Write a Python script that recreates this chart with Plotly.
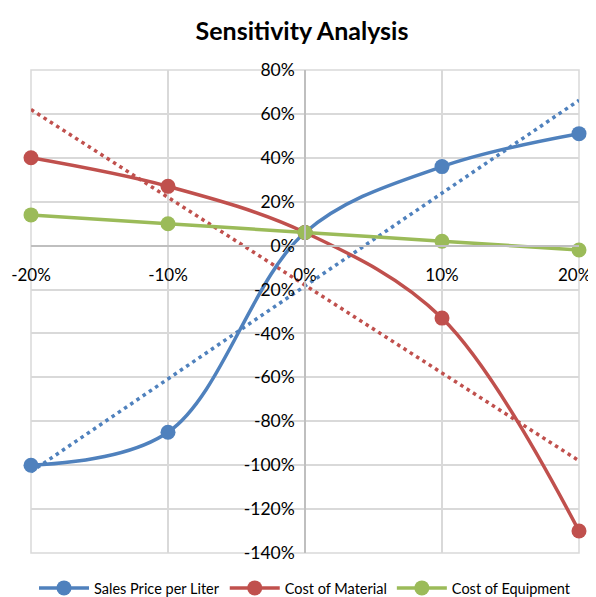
import numpy as np
import plotly.graph_objects as go

categories = ["-20%", "-10%", "0%", "10%", "20%"]
sales_price = [-100, -85, 6, 36, 51]
cost_material = [40, 27, 6, -33, -130]
cost_equipment = [14, 10, 6, 2, -2]
y_ticks = list(range(-140, 81, 20))

colors = {"sales": "#4F81BD", "material": "#C0504D", "equipment": "#9BBB59"}

idx = np.arange(len(categories))


def trend(vals):
    m, b = np.polyfit(idx, vals, 1)
    return list(m * idx + b)


fig = go.Figure()

for name, vals, key in [
    ("Sales Price per Liter", sales_price, "sales"),
    ("Cost of Material", cost_material, "material"),
]:
    fig.add_trace(go.Scatter(
        x=categories, y=trend(vals), mode="lines",
        line=dict(color=colors[key], width=3.5, dash="3.5px,4px"),
        showlegend=False, hoverinfo="skip", cliponaxis=False,
    ))

for name, vals, key in [
    ("Sales Price per Liter", sales_price, "sales"),
    ("Cost of Material", cost_material, "material"),
    ("Cost of Equipment", cost_equipment, "equipment"),
]:
    fig.add_trace(go.Scatter(
        x=categories, y=vals, name=name, mode="lines+markers",
        line=dict(color=colors[key], width=3.5, shape="spline", smoothing=1),
        marker=dict(size=15, color=colors[key]),
        cliponaxis=False,
    ))

font_family = "Lato, 'Open Sans', sans-serif"
grid = "#D9D9D9"

# page body has an 8px margin; compensate so the plot lands where the reference has it
W, H = 588, 589

fig.add_shape(type="rect", xref="paper", yref="paper", x0=0, y0=0, x1=1, y1=1,
              line=dict(color=grid, width=1.5), layer="below")

# keep the last category label inside the chart edge, as the reference does
x_ticktext = categories[:-1] + [categories[-1] + "\u00a0\u00a0"]

fig.update_layout(
    width=W, height=H,
    margin=dict(l=23, r=17, t=62, b=44, autoexpand=False),
    paper_bgcolor="white", plot_bgcolor="white",
    title=dict(text="<b>Sensitivity Analysis</b>", x=0.5, xanchor="center",
               y=1 - 23 / H, yanchor="middle",
               font=dict(family=font_family, size=25, color="black")),
    font=dict(family=font_family, size=16, color="black"),
    legend=dict(orientation="h", x=0.5, xanchor="center", y=-35 / 483, yanchor="middle",
                font=dict(size=14.5), itemwidth=50, bgcolor="rgba(0,0,0,0)"),
    xaxis=dict(
        type="category", categoryorder="array", categoryarray=categories,
        tickvals=categories, ticktext=x_ticktext,
        range=[0, 4], showgrid=True, gridcolor=grid, gridwidth=1.5,
        showline=True, linecolor="#BFBFBF", linewidth=1.5,
        anchor="free", position=140 / 220, automargin=False,
        ticks="", ticklabelstandoff=14, tickfont=dict(size=17),
        zeroline=False,
    ),
    yaxis=dict(
        range=[-140, 80], tickvals=y_ticks, ticktext=[f"{v}%" for v in y_ticks],
        showgrid=True, gridcolor=grid, gridwidth=1.5,
        showline=True, linecolor="#BFBFBF", linewidth=1.5,
        anchor="free", position=0.5, automargin=False,
        ticks="", ticklabelstandoff=6, tickfont=dict(size=17.5),
        zeroline=False,
    ),
)

fig.write_html("out.html")
